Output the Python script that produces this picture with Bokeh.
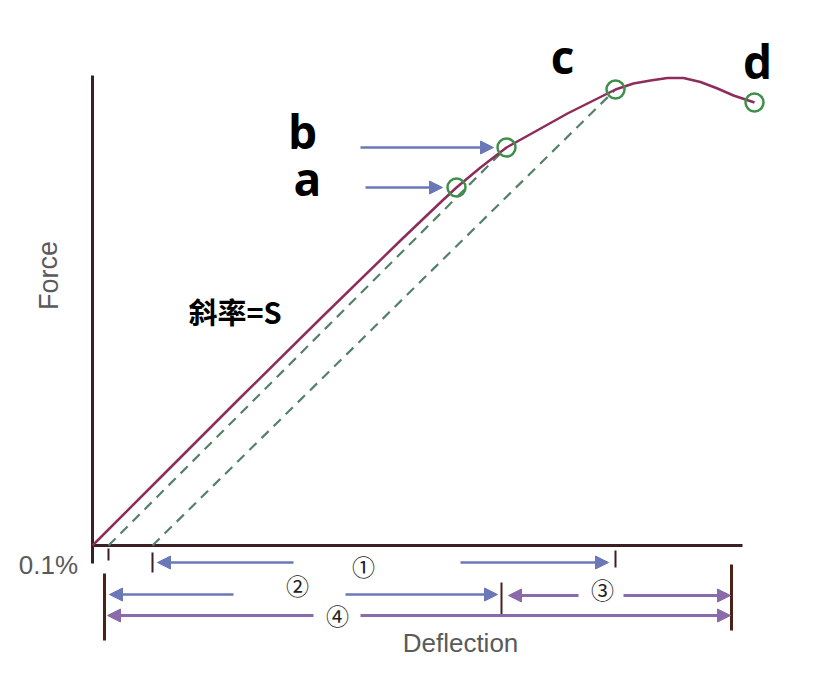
from bokeh.plotting import figure
from bokeh.models import ColumnDataSource, Arrow, NormalHead
from bokeh.core.properties import value
from bokeh.embed import file_html
from bokeh.resources import INLINE

# ---- data (deflection in arbitrary units, force in arbitrary units) ----
curve_x = [0, 1.36, 2.96, 4.56, 6.16, 7.00, 7.28, 7.76, 8.28, 8.82, 9.50, 10.02,
           10.46, 10.82, 11.16, 11.50, 11.82, 12.16, 12.50, 12.82, 13.24]
curve_y = [0, 1.36, 2.96, 4.54, 6.10, 6.90, 7.16, 7.56, 7.96, 8.26, 8.64, 8.90,
           9.12, 9.24, 9.30, 9.35, 9.35, 9.27, 9.14, 9.00, 8.86]

point_names = ["a", "b", "c", "d"]
point_x = [7.28, 8.28, 10.46, 13.24]
point_y = [7.16, 7.96, 9.12, 8.86]

# secant (dashed) lines: start on deflection axis, end at b and c
dash_x0 = [0.32, 1.20]
dash_x1 = [8.28, 10.46]
dash_y1 = [7.96, 9.12]

# small ticks under the deflection axis
tick_x = [0.32, 1.20, 10.46]
tick_top = [-0.06, -0.14, -0.10]
tick_bot = [-0.30, -0.54, -0.44]

# vertical bars marking ranges
bar_x = [0.24, 8.18, 12.78]
bar_top = [-0.56, -0.74, -0.38]
bar_bot = [-1.90, -1.40, -1.70]
bar_w = [3, 2, 3]

axis_x_max = 13.0
axis_y_max = 9.4

# range arrows (blue: 1, 2 and a/b pointers ; purple: 3, 4)
blue_x0 = [4.02, 7.36, 2.82, 5.06, 5.46, 5.36]
blue_x1 = [1.30, 10.32, 0.34, 8.10, 7.00, 8.02]
blue_y = [-0.34, -0.34, -0.98, -0.98, 7.16, 7.96]
purple_x0 = [9.72, 10.62, 4.42, 5.36]
purple_x1 = [8.32, 12.76, 0.30, 12.76]
purple_y = [-1.00, -1.00, -1.40, -1.40]

circ_labels = ["①", "②", "③", "④"]
circ_x = [5.42, 4.10, 10.20, 4.90]
circ_y = [-0.40, -0.78, -0.86, -1.38]

letter_x = [4.30, 4.20, 9.40, 13.30]
letter_y = [7.36, 8.30, 9.80, 9.70]

# ---- figure ----
W, H = 798, 665
p = figure(width=W, height=H, x_range=(-1.84, 14.12), y_range=(-2.40, 10.90),
           x_axis_type=None, y_axis_type=None, toolbar_location=None,
           output_backend="svg", min_border=0)
p.grid.visible = False
p.outline_line_color = None
p.background_fill_color = "white"

axis_col = "#3b1f24"
# axes
p.segment(x0=[0, 0], y0=[-0.36, 0], x1=[0, axis_x_max], y1=[axis_y_max, 0],
          line_color=axis_col, line_width=3)
p.segment(x0=tick_x, y0=tick_top, x1=tick_x, y1=tick_bot,
          line_color=axis_col, line_width=2)
for bx, bt, bb, bw in zip(bar_x, bar_top, bar_bot, bar_w):
    p.segment(x0=[bx], y0=[bt], x1=[bx], y1=[bb], line_color="#4a2218", line_width=bw)

# dashed secants
p.segment(x0=dash_x0, y0=[0, 0], x1=dash_x1, y1=dash_y1,
          line_color="#55806a", line_width=2.2, line_dash="10 7")

# curve
p.line(curve_x, curve_y, line_color="#8c2d5c", line_width=2.5, line_join="round")

# points a-d
p.scatter(point_x, point_y, size=18, fill_color=None, line_color="#3f8f4a", line_width=2.5)

# arrows
blue = "#6b78b8"
purple = "#8a6aaa"
bsrc = ColumnDataSource(dict(x0=blue_x0, x1=blue_x1, y=blue_y))
p.add_layout(Arrow(source=bsrc, x_start="x0", y_start="y", x_end="x1", y_end="y",
                   line_color=blue, line_width=2.5,
                   end=NormalHead(size=13, fill_color=blue, line_color=blue)))
psrc = ColumnDataSource(dict(x0=purple_x0, x1=purple_x1, y=purple_y))
p.add_layout(Arrow(source=psrc, x_start="x0", y_start="y", x_end="x1", y_end="y",
                   line_color=purple, line_width=3,
                   end=NormalHead(size=13, fill_color=purple, line_color=purple)))

# texts
p.text(letter_x, letter_y, text=point_names, text_font=value("Open Sans"),
       text_font_style="bold", text_font_size="46px", text_color="black",
       text_align="center", text_baseline="middle")
p.text(circ_x, circ_y, text=circ_labels, text_font=value("Noto Sans CJK SC"),
       text_font_size="23px", text_color="#222222",
       text_align="center", text_baseline="middle")
p.text([1.92], [4.70], text=["斜率=S"], text_font=value("Noto Sans CJK SC"),
       text_font_style="bold", text_font_size="29px", text_color="black",
       text_align="left", text_baseline="middle")
p.text([-0.88], [5.40], text=["Force"], angle=1.5708, text_font=value("Liberation Sans"),
       text_font_size="27px", text_color="#5a5a5a",
       text_align="center", text_baseline="middle")
p.text([-0.88], [-0.38], text=["0.1%"], text_font=value("Liberation Sans"),
       text_font_size="26px", text_color="#5a5a5a",
       text_align="center", text_baseline="middle")
p.text([7.36], [-1.94], text=["Deflection"], text_font=value("Liberation Sans"),
       text_font_size="26px", text_color="#5a5a5a",
       text_align="center", text_baseline="middle")

open("out.html", "w").write(file_html(p, INLINE))
